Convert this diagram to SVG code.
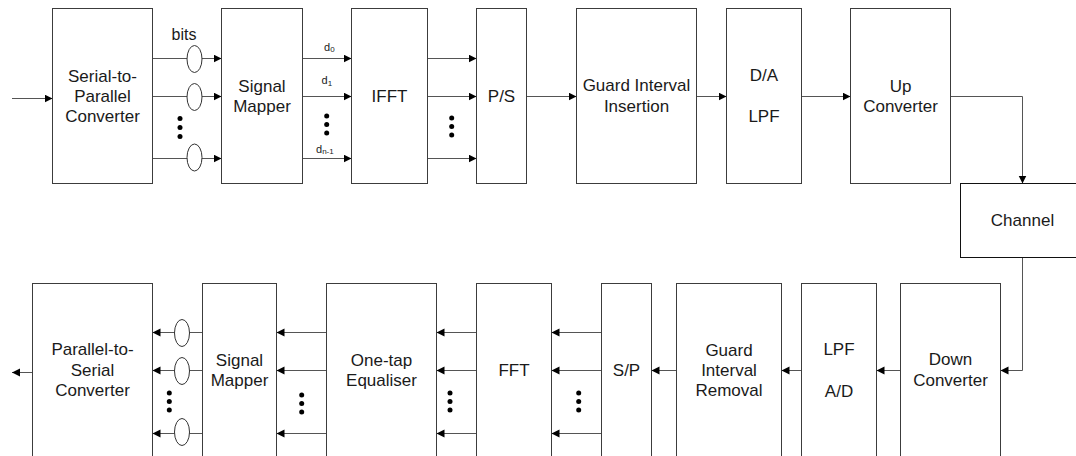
<svg xmlns="http://www.w3.org/2000/svg" width="1076" height="456" viewBox="0 0 1076 456">
<defs>
<marker id="ah" markerUnits="userSpaceOnUse" markerWidth="9" markerHeight="9" refX="8" refY="4" orient="auto"><path d="M0,0 L8,4 L0,8 z" fill="#000"/></marker>
<style>
.box{fill:#fff;stroke:#3c3c3c;stroke-width:1}
.ln{fill:none;stroke:#555;stroke-width:1;marker-end:url(#ah)}
.pl{fill:none;stroke:#555;stroke-width:1}
.t{font-family:"Liberation Sans",Arial,sans-serif;font-size:17px;fill:#1a1a1a;text-anchor:middle}
.s{font-family:"Liberation Sans",Arial,sans-serif;font-size:11px;fill:#1a1a1a}
.dot{fill:#000}
.el{fill:#fff;stroke:#333;stroke-width:1}
</style>
</defs>
<rect width="1076" height="456" fill="#fff"/>

<g id="connectors">
<path class="ln" d="M12,98.5 H52.5"/>
<path class="ln" d="M152.5,58.5 H221.5"/>
<path class="ln" d="M152.5,96.5 H221.5"/>
<path class="ln" d="M152.5,158.5 H221.5"/>
<path class="ln" d="M302.5,58.5 H351.5"/>
<path class="ln" d="M302.5,96.5 H351.5"/>
<path class="ln" d="M302.5,158.5 H351.5"/>
<path class="ln" d="M427.5,58.5 H476.5"/>
<path class="ln" d="M427.5,96.5 H476.5"/>
<path class="ln" d="M427.5,158.5 H476.5"/>
<path class="ln" d="M526.5,96.5 H576.5"/>
<path class="ln" d="M696.5,96.5 H726.5"/>
<path class="ln" d="M801.5,96.5 H850.5"/>
<path class="ln" d="M950.5,96.5 H1022.5 V183.5"/>
<path class="ln" d="M1022.5,257.5 V370.5 H1000.5"/>
<path class="ln" d="M900.5,370.5 H876.5"/>
<path class="ln" d="M801.5,370.5 H781.5"/>
<path class="ln" d="M676.5,370.5 H651.5"/>
<path class="ln" d="M601.5,332.5 H551.5"/>
<path class="ln" d="M601.5,370.5 H551.5"/>
<path class="ln" d="M601.5,433.5 H551.5"/>
<path class="ln" d="M476.5,332.5 H436.5"/>
<path class="ln" d="M476.5,370.5 H436.5"/>
<path class="ln" d="M476.5,433.5 H436.5"/>
<path class="ln" d="M326.5,332.5 H276.5"/>
<path class="ln" d="M326.5,370.5 H276.5"/>
<path class="ln" d="M326.5,433.5 H276.5"/>
<path class="ln" d="M202.5,332.5 H152.5"/>
<path class="ln" d="M202.5,370.5 H152.5"/>
<path class="ln" d="M202.5,433.5 H152.5"/>
<path class="ln" d="M32.5,372.5 H12"/>
<ellipse class="el" cx="194.5" cy="59" rx="7.5" ry="13.5"/>
<ellipse class="el" cx="194.5" cy="97" rx="7.5" ry="13.5"/>
<ellipse class="el" cx="194.5" cy="157.5" rx="7.5" ry="13.5"/>
<ellipse class="el" cx="182" cy="333" rx="7.5" ry="13.5"/>
<ellipse class="el" cx="182" cy="371" rx="7.5" ry="13.5"/>
<ellipse class="el" cx="182" cy="432" rx="7.5" ry="13.5"/>
<g class="dot">
<circle cx="180" cy="118.5" r="2.5"/><circle cx="180" cy="127.5" r="2.5"/><circle cx="180" cy="136.5" r="2.5"/>
<circle cx="326.7" cy="116" r="2.5"/><circle cx="326.7" cy="124.5" r="2.5"/><circle cx="326.7" cy="133" r="2.5"/>
<circle cx="451.7" cy="118" r="2.5"/><circle cx="451.7" cy="126.5" r="2.5"/><circle cx="451.7" cy="135" r="2.5"/>
<circle cx="169.3" cy="393" r="2.5"/><circle cx="169.3" cy="401.5" r="2.5"/><circle cx="169.3" cy="410" r="2.5"/>
<circle cx="301.7" cy="395" r="2.5"/><circle cx="301.7" cy="403.5" r="2.5"/><circle cx="301.7" cy="412" r="2.5"/>
<circle cx="450" cy="393" r="2.5"/><circle cx="450" cy="401.5" r="2.5"/><circle cx="450" cy="410" r="2.5"/>
<circle cx="578.7" cy="393" r="2.5"/><circle cx="578.7" cy="401.5" r="2.5"/><circle cx="578.7" cy="410" r="2.5"/>
</g>
<text class="t" x="184" y="40" style="font-size:16px">bits</text>
<text class="s" x="324" y="50.5">d<tspan font-size="8" dy="1.5">0</tspan></text>
<text class="s" x="321.5" y="84">d<tspan font-size="8" dy="1.5">1</tspan></text>
<text class="s" x="316" y="152.5">d<tspan font-size="8" dy="1.5">n-1</tspan></text>
</g>

<g id="sp-converter"><rect class="box" x="52.5" y="8.5" width="100" height="175"/>
<text class="t" x="102.5" y="82">Serial-to-</text><text class="t" x="102.5" y="102">Parallel</text><text class="t" x="102.5" y="122">Converter</text></g>
<g id="signal-mapper-tx"><rect class="box" x="221.5" y="8.5" width="81" height="175"/>
<text class="t" x="262" y="92">Signal</text><text class="t" x="262" y="112">Mapper</text></g>
<g id="ifft"><rect class="box" x="351.5" y="8.5" width="76" height="175"/>
<text class="t" x="389.5" y="102">IFFT</text></g>
<g id="ps"><rect class="box" x="476.5" y="8.5" width="50" height="175"/>
<text class="t" x="501.5" y="102">P/S</text></g>
<g id="gi-insertion"><rect class="box" x="576.5" y="8.5" width="120" height="175"/>
<text class="t" x="636.5" y="91">Guard Interval</text><text class="t" x="636.5" y="112">Insertion</text></g>
<g id="da-lpf"><rect class="box" x="726.5" y="8.5" width="75" height="175"/>
<text class="t" x="764" y="81">D/A</text><text class="t" x="764" y="122">LPF</text></g>
<g id="up-converter"><rect class="box" x="850.5" y="8.5" width="100" height="175"/>
<text class="t" x="900.5" y="92">Up</text><text class="t" x="900.5" y="112">Converter</text></g>
<g id="channel"><rect class="box" x="960.5" y="183.5" width="130" height="74" style="stroke:#111"/>
<text class="t" x="1022.5" y="226">Channel</text></g>

<g id="ps-converter"><rect class="box" x="32.5" y="283.5" width="120" height="190"/>
<text class="t" x="92.5" y="355">Parallel-to-</text><text class="t" x="92.5" y="376">Serial</text><text class="t" x="92.5" y="396">Converter</text></g>
<g id="signal-mapper-rx"><rect class="box" x="202.5" y="283.5" width="74" height="190"/>
<text class="t" x="239.5" y="366">Signal</text><text class="t" x="239.5" y="386">Mapper</text></g>
<g id="equaliser"><rect class="box" x="326.5" y="283.5" width="110" height="190"/>
<text class="t" x="381.5" y="366">One-tap</text><text class="t" x="381.5" y="386">Equaliser</text></g>
<g id="fft"><rect class="box" x="476.5" y="283.5" width="75" height="190"/>
<text class="t" x="514" y="376">FFT</text></g>
<g id="sp"><rect class="box" x="601.5" y="283.5" width="50" height="190"/>
<text class="t" x="626.5" y="376">S/P</text></g>
<g id="gi-removal"><rect class="box" x="676.5" y="283.5" width="105" height="190"/>
<text class="t" x="729" y="356">Guard</text><text class="t" x="729" y="376">Interval</text><text class="t" x="729" y="396">Removal</text></g>
<g id="lpf-ad"><rect class="box" x="801.5" y="283.5" width="75" height="190"/>
<text class="t" x="839" y="355">LPF</text><text class="t" x="839" y="397">A/D</text></g>
<g id="down-converter"><rect class="box" x="900.5" y="283.5" width="100" height="190"/>
<text class="t" x="950.5" y="365">Down</text><text class="t" x="950.5" y="386">Converter</text></g>
</svg>
